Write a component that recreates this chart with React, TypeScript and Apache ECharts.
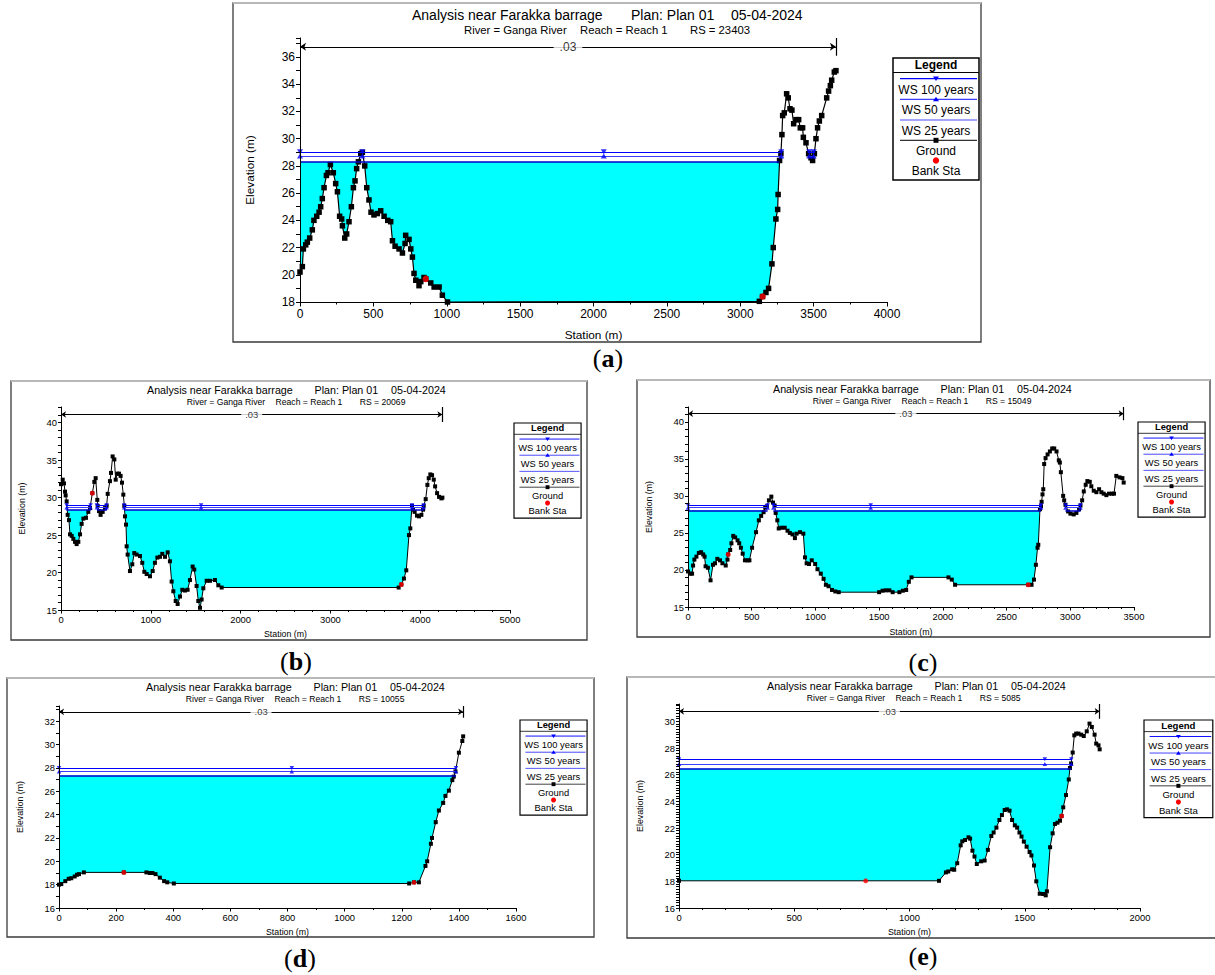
import React, { useEffect, useRef } from "react";
import * as echarts from "echarts";

const FONT = '"Liberation Sans", Arial, Helvetica, sans-serif';
const SERIF = '"Liberation Serif", "Times New Roman", serif';

// ---------- Panel (a) RS = 23403 ----------
const stationA = [0,16,23,39,50,66,84,95,114,130,141,152,164,180,191,207,227,243,255,270,284,289,305,318,334,350,364,375,386,398,414,425,441,455,470,484,504,527,550,573,598,618,630,648,675,698,716,720,743,755,766,777,789,811,823,845,857,891,914,948,970,1005,3130,3152,3175,3193,3216,3225,3243,3255,3258,3268,3277,3284,3289,3300,3316,3327,3339,3352,3364,3380,3398,3409,3425,3430,3448,3466,3482,3493,3505,3516,3527,3539,3555,3589,3602,3614,3623,3641,3652];
const elevA = [20.2,20.6,21.9,22.2,22.4,22.7,23.3,24.0,24.3,24.6,25.0,25.6,26.4,27.3,27.5,28.1,27.5,26.7,26.1,24.3,24.1,23.6,22.7,23.0,23.9,25.0,26.4,26.9,27.8,28.3,28.9,29.0,28.0,26.4,25.5,24.6,24.4,24.5,24.7,24.3,24.0,23.9,22.5,22.1,21.9,21.6,22.3,22.9,22.6,21.9,21.3,20.1,19.6,19.2,19.5,19.8,19.7,19.4,19.1,19.1,18.5,18.0,18.05,18.4,18.7,19.0,20.8,22.0,24.1,24.8,25.9,28.4,28.9,30.3,31.7,31.9,33.3,33.0,32.2,32.1,31.1,31.4,31.4,30.8,30.8,30.1,29.7,28.9,28.6,28.4,28.9,30.0,30.8,31.3,31.7,33.0,33.5,33.9,34.3,34.9,35.0];
const wsA = [29.04, 28.73, 28.29]; // WS 100, 50, 25 years
const wsExtentA = [[[0, 3279], [3460, 3508]], [[0, 3275], [3470, 3500]], [[0, 3267]]];
const wsMarkA = [0, 425, 2070, 3280, 3470, 3500];
const wetA = [[0, 3266]];
const bankStA = [857, 3152];
const bankElA = [19.7, 18.4];

// ---------- Panel (b) RS = 20069 ----------
const stationB = [0,19,33,45,52,63,74,89,100,119,137,156,174,193,212,230,249,278,304,323,349,371,386,404,408,423,441,464,490,508,520,545,557,575,594,609,627,646,664,679,694,705,713,724,731,742,768,794,816,842,880,905,928,954,991,1021,1046,1073,1102,1128,1158,1188,1213,1232,1251,1277,1299,1325,1351,1380,1410,1436,1466,1484,1510,1529,1548,1566,1585,1622,1659,1714,1752,1789,3760,3790,3819,3845,3875,3890,3909,3920,3938,3964,3987,4013,4032,4039,4061,4080,4095,4113,4132,4151,4166,4188,4210,4236,4247];
const elevB = [31.8,32.4,31.9,30.8,30.3,29.5,27.7,27.0,25.1,24.9,24.5,24.1,23.8,24.1,25.1,26.5,27.2,27.3,28.1,28.6,30.6,32.1,32.6,29.7,28.9,28.2,27.7,28.1,28.6,28.9,30.5,32.2,33.3,35.5,35.1,32.4,33.2,33.2,32.9,32.0,30.4,28.9,27.5,26.4,23.5,22.4,20.2,21.1,22.6,22.4,22.2,21.3,20.1,19.8,19.5,20.2,21.3,22.0,22.1,22.5,22.1,22.7,21.5,18.8,17.5,16.2,15.8,16.8,17.7,17.6,17.7,19.0,20.8,20.4,18.2,16.2,15.3,16.4,17.9,18.9,18.9,19.0,18.3,18.0,18.0,18.4,19.2,20.3,25.0,25.9,28.9,28.4,28.1,27.6,27.5,27.7,28.4,28.9,29.8,31.7,32.6,33.1,33.0,32.4,31.5,30.6,30.1,29.9,30.0];
const wsB = [29.0, 28.7, 28.35];
const segB = [[60, 330], [400, 510], [703, 4039]];
const wsExtentB = [segB, segB, segB];
const wsMarkB = [63, 330, 400, 508, 703, 1560, 3909, 4039];
const wetB = [[60, 330], [400, 510], [703, 3905]];
const bankStB = [349, 3790];
const bankElB = [30.6, 18.4];

// ---------- Panel (c) RS = 15049 ----------
const stationC = [0,19,32,40,50,66,85,103,119,130,138,156,177,196,212,230,251,270,296,310,315,331,341,355,370,389,402,415,429,447,468,482,503,534,556,574,593,606,619,635,654,667,680,688,701,712,733,759,781,799,820,839,852,879,905,918,931,950,971,998,1016,1042,1064,1082,1103,1130,1156,1183,1500,1527,1553,1580,1606,1659,1686,1712,1733,1754,2044,2070,2096,2670,2696,2715,2730,2743,2749,2762,2770,2775,2782,2788,2795,2806,2822,2840,2858,2874,2892,2910,2918,2926,2944,2952,2962,2983,3001,3027,3048,3069,3080,3093,3106,3121,3134,3153,3165,3184,3205,3226,3244,3262,3283,3304,3327,3343,3361,3387,3409,3419];
const elevC = [19.8,19.5,19.5,20.6,21.4,21.8,22.3,22.4,22.1,21.8,20.5,20.3,18.6,20.7,20.9,21.5,21.3,20.9,20.6,21.4,22.1,22.7,23.6,24.6,24.4,24.0,23.6,23.0,22.2,21.3,21.3,21.3,23.0,25.1,26.7,27.3,27.8,28.4,28.6,29.4,29.9,29.1,28.7,27.7,26.7,25.6,25.7,25.7,25.3,25.0,24.8,24.3,24.9,25.1,24.9,21.7,20.9,20.8,21.3,20.8,20.1,19.5,18.8,18.0,17.8,17.3,17.1,17.0,17.0,17.2,17.25,17.25,17.0,17.0,17.2,17.3,18.4,19.0,19.0,18.7,18.0,18.0,18.0,18.7,20.7,23.0,23.4,28.2,28.6,29.2,30.2,30.9,34.3,35.1,35.6,36.0,36.4,36.4,36.0,34.8,34.5,33.2,30.0,29.4,28.8,27.9,27.6,27.5,27.7,28.2,28.7,29.4,30.6,31.5,32.0,31.9,31.3,30.7,30.5,30.9,30.5,30.3,30.1,30.3,30.3,30.3,32.7,32.5,32.4,31.8];
const wsC = [28.75, 28.4, 28.05];
const segC = [[0, 625], [670, 2770], [2962, 3080]];
const wsExtentC = [segC, segC, segC];
const wsMarkC = [0, 625, 670, 1434, 2770, 2962, 3080];
const wetC = [[0, 622], [672, 2766]];
const bankStC = [315, 2670];
const bankElC = [22.1, 18.0];

// ---------- Panel (d) RS = 10055 ----------
const stationD = [0,8,22,34,43,55,63,70,87,227,306,318,327,338,353,368,379,402,1226,1243,1260,1283,1289,1302,1306,1319,1330,1345,1353,1365,1377,1382,1388,1400,1412,1415];
const elevD = [18.0,18.05,18.3,18.5,18.55,18.7,18.85,18.9,19.05,19.05,19.05,19.0,19.0,18.9,18.6,18.3,18.2,18.1,18.1,18.2,18.2,19.6,20.0,21.5,22.0,23.35,24.35,25.0,25.6,26.05,26.95,27.25,27.7,29.3,30.3,30.7];
const wsD = [28.0, 27.7, 27.35];
const segD = [[0, 1390]];
const wsExtentD = [segD, segD, segD];
const wsMarkD = [0, 815, 1390];
const wetD = [[0, 1384]];
const bankStD = [227, 1243];
const bankElD = [19.05, 18.2];

// ---------- Panel (e) RS = 5085 ----------
const stationE = [0,1128,1158,1168,1185,1194,1207,1222,1229,1241,1256,1263,1273,1282,1292,1311,1326,1340,1355,1365,1377,1390,1401,1413,1423,1434,1445,1457,1467,1477,1486,1496,1508,1521,1529,1540,1550,1565,1580,1591,1596,1610,1621,1631,1642,1653,1660,1667,1679,1691,1696,1701,1708,1715,1723,1733,1745,1756,1769,1781,1791,1803,1810,1820,1825];
const elevE = [18.04,18.04,18.67,18.74,18.9,18.87,19.36,20.7,21.0,21.1,21.3,21.2,20.3,19.86,19.3,19.5,19.56,20.36,21.4,21.66,22.03,22.6,22.97,23.35,23.4,23.3,22.6,22.2,22.03,21.66,21.36,20.98,20.6,20.2,19.94,19.19,18.0,17.07,17.05,16.95,17.25,20.56,21.6,22.3,22.4,22.55,22.9,23.55,24.47,25.64,26.5,26.84,27.66,28.95,29.08,29.08,29.0,28.9,29.25,29.83,29.58,29.0,28.33,28.2,27.9];
const wsE = [27.15, 26.8, 26.45];
const segE = [[0, 1702]];
const wsExtentE = [segE, segE, segE];
const wsMarkE = [0, 1587, 1702];
const wetE = [[0, 1698]];
const bankStE = [810, 1660];
const bankElE = [18.04, 22.9];

// ---------- texts ----------
const TITLE_PARTS = ["Analysis near Farakka barrage", "Plan: Plan 01", "05-04-2024"];
const SUB_PARTS = ["River = Ganga River", "Reach = Reach 1"];
const LEGEND_ITEMS = ["WS 100 years", "WS 50 years", "WS 25 years", "Ground", "Bank Sta"];
const MANNING_N = ".03";

const WS_COLORS = ["#0000ff", "#3c3cff", "#0000c8"];

const panels = [
  { tag: "a", rs: "23403", station: stationA, elev: elevA, ws: wsA, wsExtent: wsExtentA, wsMark: wsMarkA, wet: wetA, bankSt: bankStA, bankEl: bankElA,
    xr: [0, 4000, 500, 2], yr: [18, 37.4, 1, 2], arrowEl: 36.75,
    frame: [233, 3, 748, 339], grid: [300, 38, 587, 264], s: 1, titleX: 412, legend: [893, 58], ls: 1, tagPos: [608, 358], xGap: 27, yGap: 44 },
  { tag: "b", rs: "20069", station: stationB, elev: elevB, ws: wsB, wsExtent: wsExtentB, wsMark: wsMarkB, wet: wetB, bankSt: bankStB, bankEl: bankElB,
    xr: [0, 5000, 1000, 5], yr: [15, 42.1, 1, 5], arrowEl: 41.1,
    frame: [11, 381, 576, 259], grid: [61, 407, 449, 203], s: 0.765, titleX: 147, legend: [514, 423], ls: 0.78, tagPos: [296, 661], xGap: 19, yGap: 35 },
  { tag: "c", rs: "15049", station: stationC, elev: elevC, ws: wsC, wsExtent: wsExtentC, wsMark: wsMarkC, wet: wetC, bankSt: bankStC, bankEl: bankElC,
    xr: [0, 3500, 500, 5], yr: [15, 42.0, 1, 5], arrowEl: 41.1,
    frame: [637, 380, 573, 257], grid: [688, 407, 446, 200], s: 0.765, titleX: 773, legend: [1138, 422], ls: 0.78, tagPos: [923, 662], xGap: 20, yGap: 35 },
  { tag: "d", rs: "10055", station: stationD, elev: elevD, ws: wsD, wsExtent: wsExtentD, wsMark: wsMarkD, wet: wetD, bankSt: bankStD, bankEl: bankElD,
    xr: [0, 1600, 200, 2], yr: [16, 33.3, 1, 2], arrowEl: 32.8,
    frame: [7, 678, 587, 259], grid: [59, 706, 457, 202], s: 0.765, titleX: 146, legend: [520, 720], ls: 0.78, tagPos: [300, 958], xGap: 19, yGap: 35 },
  { tag: "e", rs: "5085", station: stationE, elev: elevE, ws: wsE, wsExtent: wsExtentE, wsMark: wsMarkE, wet: wetE, bankSt: bankStE, bankEl: bankElE,
    xr: [0, 2000, 500, 5], yr: [16, 31.3, 0.2, 2], arrowEl: 30.75,
    frame: [627, 677, 590, 261], grid: [679, 704, 461, 204], s: 0.765, titleX: 767, legend: [1144, 720], ls: 0.8, tagPos: [923, 956], xGap: 19, yGap: 35 },
];

function isMultiple(v: number, step: number) {
  const r = v / step;
  return Math.abs(r - Math.round(r)) < 1e-6;
}

function txt(text: string, x: number, y: number, size: number, extra: any = {}) {
  return {
    type: "text",
    silent: true,
    style: { text, x, y, fill: "#000", font: `${extra.weight || "normal"} ${size}px ${FONT}`, align: extra.align || "left", verticalAlign: "middle" },
  };
}

function legendChildren() {
  const c: any[] = [];
  c.push({ type: "rect", shape: { x: 0, y: 0, width: 86, height: 122 }, style: { fill: "#fff", stroke: "#000", lineWidth: 1.5 } });
  c.push(txt("Legend", 43, 6.8, 12, { weight: "bold", align: "center" }));
  c.push({ type: "line", shape: { x1: 0, y1: 14.5, x2: 86, y2: 14.5 }, style: { stroke: "#000", lineWidth: 1 } });
  const lineYs = [20.6, 41.3, 62, 82.3];
  const lineCols = ["#0000ff", "#3c3cff", "#4a4aff", "#333333"];
  lineYs.forEach((y, k) => {
    c.push({ type: "line", shape: { x1: 7, y1: y, x2: 84, y2: y }, style: { stroke: lineCols[k], lineWidth: 1.2 } });
    c.push(txt(LEGEND_ITEMS[k], 43, y + 11, 12, { align: "center" }));
  });
  c.push({ type: "polygon", shape: { points: [[40, 18.6], [46, 18.6], [43, 23.1]] }, style: { fill: "#0000ff" } });
  c.push({ type: "polygon", shape: { points: [[40, 43.3], [46, 43.3], [43, 38.8]] }, style: { fill: "#0000ff" } });
  c.push({ type: "rect", shape: { x: 40.5, y: 79.8, width: 5, height: 5 }, style: { fill: "#000" } });
  c.push({ type: "circle", shape: { cx: 43, cy: 102.6, r: 3.2 }, style: { fill: "#ff0000" } });
  c.push(txt(LEGEND_ITEMS[4], 43, 113.3, 12, { align: "center" }));
  return c;
}

function buildOption() {
  const grid: any[] = [];
  const xAxis: any[] = [];
  const yAxis: any[] = [];
  const series: any[] = [];
  const graphic: any[] = [];

  panels.forEach((p, i) => {
    const small = p.s < 1;
    const tickFont = small ? 9.4 : 12;
    const nameFont = small ? 8.8 : 11.8;
    grid.push({ left: p.grid[0], top: p.grid[1], width: p.grid[2], height: p.grid[3], outerBoundsMode: "none", containLabel: false });
    const base = {
      gridIndex: i,
      type: "value",
      z: 10,
      nameLocation: "middle",
      nameTextStyle: { color: "#000", fontFamily: FONT, fontSize: nameFont },
      axisLine: { show: true, onZero: false, lineStyle: { color: "#000", width: 1 } },
      splitLine: { show: false },
    };
    xAxis.push({
      ...base,
      min: p.xr[0], max: p.xr[1], interval: p.xr[2],
      name: "Station (m)", nameGap: p.xGap,
      axisTick: { show: true, length: small ? 3.5 : 4.5, lineStyle: { color: "#000", width: 1 } },
      minorTick: { show: true, splitNumber: p.xr[3], length: small ? 2 : 2.5, lineStyle: { color: "#000", width: 1 } },
      axisLabel: { color: "#000", fontFamily: FONT, fontSize: tickFont, margin: small ? 5 : 6, formatter: (v: number) => String(Math.round(v)) },
    });
    const labStep = p.yr[3];
    yAxis.push({
      ...base,
      min: p.yr[0], max: p.yr[1], interval: p.yr[2],
      name: "Elevation (m)", nameGap: p.yGap,
      axisTick: { show: true, length: small ? 3 : 4, lineStyle: { color: "#000", width: 1 } },
      axisLabel: {
        color: "#000", fontFamily: FONT, fontSize: tickFont, margin: small ? 4 : 5,
        formatter: (v: number) => (isMultiple(v, labStep) ? String(Math.round(v)) : ""),
      },
    });

    const ax = { xAxisIndex: i, yAxisIndex: i };
    const [ws100, ws50, ws25] = p.ws;
    const last = p.station[p.station.length - 1];

    // water (cyan) up to the lowest profile
    p.wet.forEach(([a, b]) => {
      series.push({
        type: "line", ...ax, silent: true, symbol: "none", z: 1,
        data: [[a, ws25], [b, ws25]],
        lineStyle: { width: 0, opacity: 0 },
        areaStyle: { color: "#00ffff", opacity: 1, origin: "start" },
      });
    });
    // ground
    series.push({
      type: "line", ...ax, name: "Ground", silent: true, z: 3,
      data: p.station.map((x, k) => [x, p.elev[k]]),
      symbol: "rect", symbolSize: small ? 4 : 5.5, showAllSymbol: true,
      itemStyle: { color: "#000" },
      lineStyle: { color: "#000", width: small ? 1 : 1.2 },
      areaStyle: { color: "#ffffff", opacity: 1, origin: "start" },
    });
    // water surfaces
    p.ws.forEach((w, k) => {
      series.push({
        type: "lines", coordinateSystem: "cartesian2d", ...ax, silent: true, z: 4,
        polyline: false, symbol: "none",
        lineStyle: { color: WS_COLORS[k], width: k === 2 ? 1.6 : 1.1, opacity: 1 },
        data: p.wsExtent[k].map(([a, b]) => ({ coords: [[a, w], [b, w]] })),
      });
    });
    const mk = small ? [4.5, 4] : [6, 5];
    series.push({ type: "scatter", ...ax, silent: true, z: 5, symbol: "triangle", symbolRotate: 180, symbolSize: mk,
      itemStyle: { color: "#0000ff" }, data: p.wsMark.map((x) => [x, ws100]) });
    series.push({ type: "scatter", ...ax, silent: true, z: 5, symbol: "triangle", symbolSize: mk,
      itemStyle: { color: "#0000ff" }, data: p.wsMark.map((x) => [x, ws50]) });
    // bank stations
    series.push({ type: "scatter", ...ax, silent: true, z: 6, symbol: "circle", symbolSize: small ? 5 : 6.5,
      itemStyle: { color: "#ff0000" }, data: p.bankSt.map((x, k) => [x, p.bankEl[k]]) });
    // Manning's n extent arrow
    series.push({
      type: "lines", coordinateSystem: "cartesian2d", ...ax, silent: true, z: 4,
      symbol: ["arrow", "arrow"], symbolSize: small ? 5 : 6,
      lineStyle: { color: "#000", width: 1, opacity: 1 },
      data: [{ coords: [[p.xr[0], p.arrowEl], [last, p.arrowEl]] }],
    });
    series.push({
      type: "lines", coordinateSystem: "cartesian2d", ...ax, silent: true, z: 4, symbol: "none",
      lineStyle: { color: "#000", width: 1.2, opacity: 1 },
      data: [{ coords: [[last, p.yr[1]], [last, 2 * p.arrowEl - p.yr[1]]] }],
    });
    series.push({
      type: "scatter", ...ax, silent: true, z: 6, symbolSize: 1,
      itemStyle: { color: "rgba(0,0,0,0)" },
      data: [[last / 2, p.arrowEl]],
      label: { show: true, position: "inside", formatter: MANNING_N, color: "#000", fontFamily: FONT, fontSize: tickFont,
        backgroundColor: "#fff", padding: [1, small ? 4 : 6] },
    });

    // frame
    const [fx, fy, fw, fh] = p.frame;
    graphic.push({ type: "rect", silent: true, shape: { x: fx, y: fy, width: fw, height: fh }, style: { fill: "none", stroke: "#3a3a3a", lineWidth: 1.3 } });
    graphic.push({ type: "line", silent: true, shape: { x1: fx, y1: fy, x2: fx + fw, y2: fy }, style: { stroke: "#b8b8b8", lineWidth: 2 } });
    // title
    graphic.push({
      type: "group", x: p.titleX, y: fy, scaleX: p.s, scaleY: p.s, silent: true,
      children: [
        txt(TITLE_PARTS[0], 0, 12, 14), txt(TITLE_PARTS[1], 219, 12, 14), txt(TITLE_PARTS[2], 319, 12, 14),
        txt(SUB_PARTS[0], 52, 27, 11.3), txt(SUB_PARTS[1], 168, 27, 11.3), txt("RS = " + p.rs, 278, 27, 11.3),
      ],
    });
    // legend
    graphic.push({ type: "group", x: p.legend[0], y: p.legend[1], scaleX: p.ls, scaleY: p.ls, silent: true, children: legendChildren() });
    // panel tag
    graphic.push({
      type: "text", silent: true,
      style: {
        text: `{p|(}{b|${p.tag}}{p|)}`, x: p.tagPos[0], y: p.tagPos[1], align: "center", verticalAlign: "middle",
        rich: {
          p: { fontSize: 26, fontFamily: SERIF, fill: "#000" },
          b: { fontSize: 26, fontFamily: SERIF, fontWeight: "bold", fill: "#000" },
        },
      },
    });
  });

  return { animation: false, backgroundColor: "#fff", grid, xAxis, yAxis, series, graphic };
}

export default function App() {
  const ref = useRef<HTMLDivElement>(null);
  useEffect(() => {
    const chart = echarts.init(ref.current as HTMLDivElement, null, { renderer: "svg" });
    chart.setOption(buildOption() as any);
    return () => chart.dispose();
  }, []);
  return <div ref={ref} style={{ position: "absolute", left: 0, top: 0, width: 1215, height: 975, background: "#fff" }} />;
}
